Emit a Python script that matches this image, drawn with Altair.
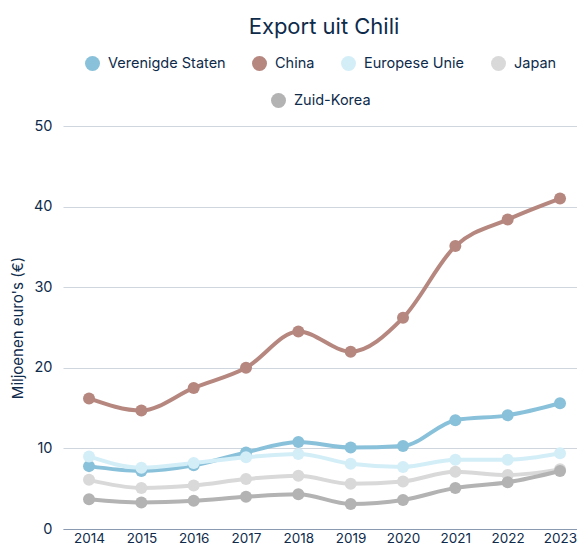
import altair as alt
import pandas as pd

years = ["2014", "2015", "2016", "2017", "2018", "2019", "2020", "2021", "2022", "2023"]
series = ["Verenigde Staten", "China", "Europese Unie", "Japan", "Zuid-Korea"]
vs = [7.8, 7.2, 7.9, 9.5, 10.8, 10.1, 10.3, 13.5, 14.1, 15.6]
china = [16.2, 14.7, 17.5, 20.0, 24.5, 22.0, 26.2, 35.1, 38.4, 41.0]
eu = [9.0, 7.6, 8.2, 8.9, 9.3, 8.1, 7.7, 8.6, 8.6, 9.4]
japan = [6.1, 5.1, 5.4, 6.2, 6.6, 5.6, 5.9, 7.1, 6.7, 7.4]
korea = [3.7, 3.3, 3.5, 4.0, 4.3, 3.1, 3.6, 5.1, 5.8, 7.2]
colors = ["#89c1da", "#b5877f", "#d4eef8", "#d9d9d9", "#b3b3b3"]

NAVY = "#0e2b4b"
FONT = "Inter"

rows = []
for name, vals in zip(series, [vs, china, eu, japan, korea]):
    for y, v in zip(years, vals):
        rows.append({"jaar": y, "land": name, "waarde": v})
df = pd.DataFrame(rows)

main = df[df["land"] != "Zuid-Korea"]
kor = df[df["land"] == "Zuid-Korea"]

x_enc = alt.X("jaar:O", scale=alt.Scale(type="point", padding=0.411, align=0.605),
              axis=alt.Axis(title=None, labelAngle=0, ticks=False, domainColor="#8a9ab0",
                            labelPadding=2, labelFontSize=13.5, grid=False))
y_enc = alt.Y("waarde:Q", scale=alt.Scale(domain=[0, 50], nice=False),
              axis=alt.Axis(title="Miljoenen euro's (€)", values=[0, 10, 20, 30, 40, 50],
                            domain=False, ticks=False, gridColor="#cfd6de", labelPadding=11,
                            titlePadding=8, labelFontSize=14.5, titleFontSize=15,
                            titleFontWeight="normal"))

leg1 = alt.Legend(title=None, orient="none", direction="horizontal", legendX=22, legendY=-70,
                  symbolType="circle", symbolSize=225, symbolStrokeWidth=0,
                  columnPadding=26, labelOffset=8)
color_enc = alt.Color("land:N", sort=series[:4],
                      scale=alt.Scale(domain=series[:4], range=colors[:4]), legend=leg1)

lines = alt.Chart(main).mark_line(interpolate="monotone", strokeWidth=4).encode(
    x=x_enc, y=y_enc, color=color_enc, detail="land:N")
points = alt.Chart(main).mark_point(filled=True, size=144, opacity=1).encode(
    x=x_enc, y=y_enc, color=color_enc)

leg2 = alt.Legend(title=None, orient="none", direction="horizontal", legendX=208, legendY=-33,
                  symbolType="circle", symbolSize=225, symbolStrokeWidth=0, labelOffset=8)
k_line = alt.Chart(kor).mark_line(interpolate="monotone", strokeWidth=4, color=colors[4]).encode(
    x=x_enc, y=y_enc)
k_points = alt.Chart(kor).mark_point(filled=True, size=144, opacity=1).encode(
    x=x_enc, y=y_enc,
    fill=alt.Fill("land:N", scale=alt.Scale(domain=["Zuid-Korea"], range=[colors[4]]), legend=leg2))

chart = alt.layer(lines, points, k_line, k_points).properties(
    width=514, height=403,
    title=alt.TitleParams("Export uit Chili", anchor="middle", fontSize=22, font=FONT,
                          fontWeight="normal", color=NAVY, offset=17, dx=4),
    autosize=alt.AutoSizeParams(type="none"),
    padding={"left": 55, "top": 118, "right": 0, "bottom": 17},
).configure_view(stroke=None).configure_axis(
    labelFont=FONT, titleFont=FONT, labelColor=NAVY, titleColor=NAVY
).configure_legend(labelFont=FONT, labelFontSize=14.5, labelColor=NAVY)

chart.save("out.html", embed_options={"renderer": "svg", "actions": False})
